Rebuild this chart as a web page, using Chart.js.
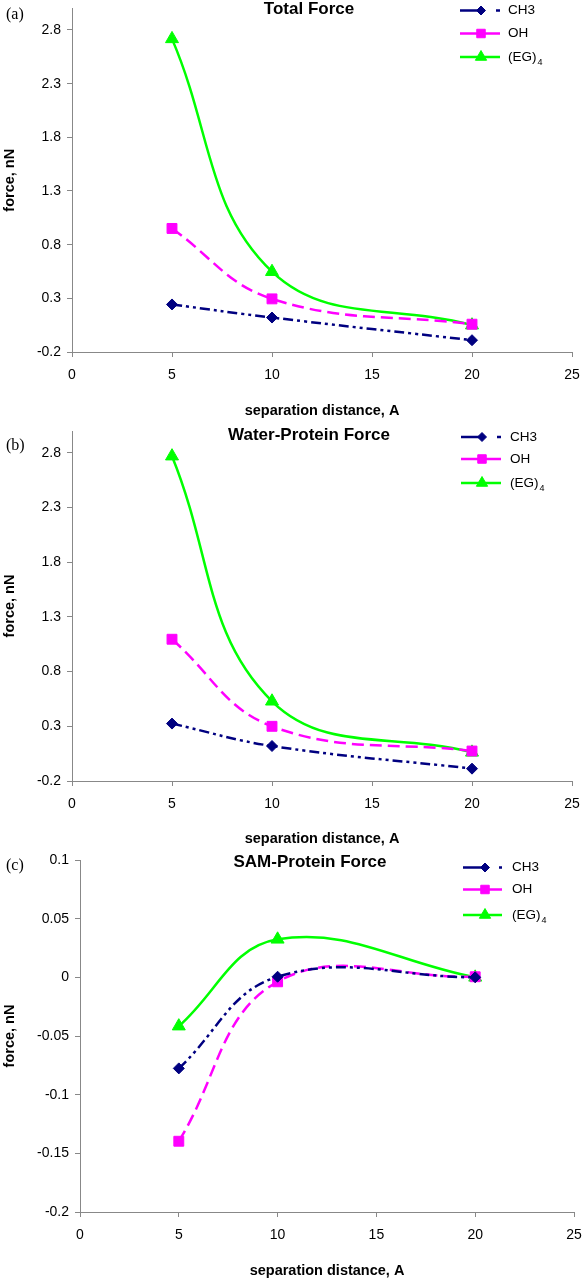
<!DOCTYPE html>
<html>
<head>
<meta charset="utf-8">
<script src="https://cdn.jsdelivr.net/npm/chart.js@4.4.1/dist/chart.umd.min.js"></script>
<style>
  html, body { margin: 0; padding: 0; background: #fff; }
  #page { position: relative; width: 586px; height: 1280px; overflow: hidden; background: #fff; }
  #page canvas { position: absolute; left: 0; }
</style>
</head>
<body>
<div id="page">
  <canvas id="chartA" width="586" height="420" style="top:0px"></canvas>
  <canvas id="chartB" width="586" height="428" style="top:420px"></canvas>
  <canvas id="chartC" width="586" height="432" style="top:848px"></canvas>
</div>
<script>
// separation distance (A)
var distances = [5, 10, 20];
var seriesNames = ["CH3", "OH", "(EG)"];
var seriesSubs = ["", "", "4"];

// (a) total force, nN
var totalCH3 = [0.243, 0.121, -0.09];
var totalOH = [0.951, 0.295, 0.059];
var totalEG4 = [2.717, 0.548, 0.05];

// (b) water-protein force, nN
var waterCH3 = [0.325, 0.12, -0.087];
var waterOH = [1.096, 0.3, 0.074];
var waterEG4 = [2.77, 0.529, 0.062];

// (c) SAM-protein force, nN
var samCH3 = [-0.0776, 0.0005, 0.0];
var samOH = [-0.1397, -0.0038, 0.0005];
var samEG4 = [-0.0416, 0.0324, 0.0];

var xTicks = [0, 5, 10, 15, 20, 25];
var forceTicks = [-0.2, 0.3, 0.8, 1.3, 1.8, 2.3, 2.8];
var samTicks = [-0.2, -0.15, -0.1, -0.05, 0, 0.05, 0.1];

Chart.defaults.font.family = '"Liberation Sans", Arial, sans-serif';
Chart.defaults.font.size = 14;
Chart.defaults.color = "#000";

var seriesStyle = [
    { color: "#000080", dash: [10, 4, 3, 4, 3, 4], legendDash: [18, 18, 4], point: "rectRot", radius: 5.5, legendRadius: 4.5 },
    { color: "#ff00ff", dash: [12, 6], legendDash: [], point: "rect", radius: 7, legendRadius: 6 },
    { color: "#00ff00", dash: [], legendDash: [], point: "triangle", radius: 7.5, legendRadius: 6.5 }
];

function toPoints(vals) {
    return distances.map(function(d, i) { return { x: d, y: vals[i] }; });
}

function fmt(v) { return String(+(+v).toFixed(3)); }

// titles, panel letters and the Excel-style legend
var panelText = {
    id: "panelText",
    afterDraw: function(chart, args, o) {
        var ctx = chart.ctx;
        ctx.save();
        ctx.fillStyle = "#000";
        ctx.textBaseline = "middle";
        ctx.font = 'bold 17px "Liberation Sans", Arial, sans-serif';
        ctx.textAlign = "center";
        ctx.fillText(o.title, o.titleX, o.titleY);
        ctx.font = '16px "Liberation Serif", "Times New Roman", serif';
        ctx.textAlign = "left";
        ctx.fillText(o.letter, o.letterX, o.letterY);

        chart.data.datasets.forEach(function(ds, i) {
            var y = o.legendY[i], st = seriesStyle[i];
            ctx.strokeStyle = st.color;
            ctx.lineWidth = ds.borderWidth;
            ctx.setLineDash(st.legendDash);
            ctx.beginPath(); ctx.moveTo(o.lineX0, y); ctx.lineTo(o.lineX1, y); ctx.stroke();
            ctx.setLineDash([]);
            ctx.fillStyle = st.color;
            ctx.lineWidth = 1;
            Chart.helpers.drawPoint(ctx, { pointStyle: st.point, radius: st.legendRadius, rotation: 0, borderWidth: 1 }, o.markX, y);
            ctx.fillStyle = "#000";
            ctx.font = '13.5px "Liberation Sans", Arial, sans-serif';
            ctx.fillText(seriesNames[i], o.textX, y);
            if (seriesSubs[i]) {
                var w = ctx.measureText(seriesNames[i]).width;
                ctx.font = '9px "Liberation Sans", Arial, sans-serif';
                ctx.fillText(seriesSubs[i], o.textX + w + 1, y + 6);
            }
        });
        ctx.restore();
    }
};

function makePanel(id, geom, yMin, yMax, yTickValues, values, text) {
    var datasets = values.map(function(vals, i) {
        var st = seriesStyle[i];
        return {
            label: seriesNames[i] + seriesSubs[i],
            data: toPoints(vals),
            borderColor: st.color,
            backgroundColor: st.color,
            pointBackgroundColor: st.color,
            pointBorderColor: st.color,
            borderWidth: 2.5,
            borderDash: st.dash,
            pointStyle: st.point,
            pointRadius: st.radius,
            pointBorderWidth: 1,
            tension: 0.4,
            fill: false
        };
    });
    return new Chart(document.getElementById(id), {
        type: "line",
        data: { datasets: datasets },
        options: {
            animation: false,
            responsive: false,
            devicePixelRatio: 1,
            layout: { padding: { left: 0, right: 586 - geom.right, top: geom.top, bottom: 0 } },
            scales: {
                x: {
                    type: "linear", min: 0, max: 25,
                    afterBuildTicks: function(s) { s.ticks = xTicks.map(function(v) { return { value: v }; }); },
                    afterFit: function(s) { s.height = geom.h - geom.bottom; s.paddingLeft = 0; s.paddingRight = 0; },
                    ticks: { padding: 10, maxRotation: 0, callback: function(v) { return fmt(v); } },
                    grid: { display: true, drawOnChartArea: false, drawTicks: true, tickLength: 5, color: "#888" },
                    border: { display: true, color: "#888", width: 1 },
                    title: { display: true, text: "separation distance, A", font: { size: 14.5, weight: "bold" }, padding: 0 }
                },
                y: {
                    type: "linear", min: yMin, max: yMax,
                    afterBuildTicks: function(s) { s.ticks = yTickValues.map(function(v) { return { value: v }; }); },
                    afterFit: function(s) { s.width = geom.left; s.paddingTop = 0; s.paddingBottom = 0; },
                    ticks: { padding: 6, callback: function(v) { return fmt(v); } },
                    grid: { display: true, drawOnChartArea: false, drawTicks: true, tickLength: 5, color: "#888" },
                    border: { display: true, color: "#888", width: 1 },
                    title: { display: true, text: "force, nN", font: { size: 14.5, weight: "bold" }, padding: { top: 1 } }
                }
            },
            plugins: {
                legend: { display: false },
                title: { display: false },
                tooltip: { enabled: false },
                panelText: text
            }
        },
        plugins: [panelText]
    });
}

makePanel("chartA", { h: 420, left: 72, right: 572, top: 4, bottom: 352 }, -0.2, 3.0, forceTicks,
    [totalCH3, totalOH, totalEG4],
    { title: "Total Force", titleX: 309, titleY: 9, letter: "(a)", letterX: 6, letterY: 15,
      lineX0: 460, lineX1: 500, markX: 481, textX: 508, legendY: [10.5, 33.5, 57] });

makePanel("chartB", { h: 428, left: 72, right: 572, top: 11, bottom: 361 }, -0.2, 3.0, forceTicks,
    [waterCH3, waterOH, waterEG4],
    { title: "Water-Protein Force", titleX: 309, titleY: 15, letter: "(b)", letterX: 6, letterY: 26,
      lineX0: 461, lineX1: 501, markX: 482, textX: 510, legendY: [17, 39, 63] });

makePanel("chartC", { h: 432, left: 80, right: 574, top: 12, bottom: 364 }, -0.2, 0.1, samTicks,
    [samCH3, samOH, samEG4],
    { title: "SAM-Protein Force", titleX: 310, titleY: 14, letter: "(c)", letterX: 6, letterY: 18,
      lineX0: 463, lineX1: 502, markX: 485, textX: 512, legendY: [19.5, 41.5, 67] });
</script>
</body>
</html>
